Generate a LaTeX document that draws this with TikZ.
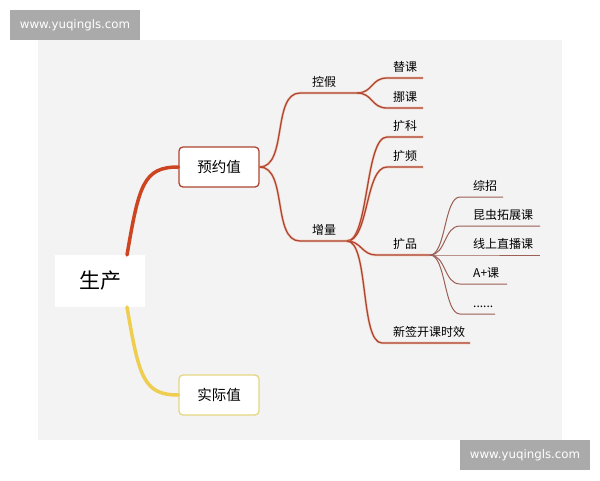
\documentclass[tikz,border=0pt]{standalone}
\usepackage{fontspec}
\newfontfamily\cjk{Noto Sans CJK SC}
\newfontfamily\wmfont{DejaVu Sans}
\definecolor{panelgray}{RGB}{243,243,243}
\definecolor{wmgray}{RGB}{170,170,170}
\definecolor{rootred}{RGB}{205,68,32}
\definecolor{rootyellow}{RGB}{238,205,80}
\definecolor{branchred}{RGB}{175,68,50}
\definecolor{glow}{RGB}{240,140,90}
\definecolor{twigbrown}{RGB}{155,95,85}
\definecolor{boxyellow}{RGB}{228,214,130}
\begin{document}
\begin{tikzpicture}[x=1pt,y=-1pt,
  wmbox/.style={fill=wmgray,text=white,minimum width=130pt,minimum height=30pt,inner sep=0pt,font=\wmfont\fontsize{11.8}{13}\selectfont},
  rootbox/.style={fill=white,minimum width=90pt,minimum height=52pt,font=\cjk\fontsize{21}{24}\selectfont},
  catbox/.style={fill=white,draw,rounded corners=4pt,line width=1.3pt,minimum width=80pt,minimum height=40pt,font=\cjk\fontsize{14.5}{17}\selectfont},
  lbl/.style={anchor=base west,inner sep=0pt,font=\cjk\fontsize{12}{14}\selectfont},
  trunk/.style={line width=3.5pt,line cap=round},
  branch/.style={draw=branchred,line width=1.3pt,preaction={draw=glow,line width=2.6pt,opacity=0.35}},
  twig/.style={draw=twigbrown,line width=1pt}]
\useasboundingbox (0,0) rectangle (600,480);
\fill[panelgray] (38,40) rectangle (562,440);
\node[wmbox] (wmtop) at (75,25) {www.yuqingls.com};
\node[wmbox] (wmbot) at (525,455) {www.yuqingls.com};

\node[rootbox] (shengchan) at (100,281) {生产};
\node[catbox,draw=branchred] (yuyue) at (219,167) {预约值};
\node[catbox,draw=boxyellow] (shiji) at (219,395) {实际值};
\coordinate (sc-top) at (127,255);
\coordinate (sc-bot) at (127,307);
\draw[trunk,rootred] (sc-top) .. controls +(12,-70) and +(-35,0) .. (yuyue.west);
\draw[trunk,rootyellow] (sc-bot) .. controls +(12,70) and +(-35,0) .. (shiji.west);

\coordinate (kj-l) at (300,93);
\coordinate (kj-r) at (357,93);
\coordinate (zl-l) at (300,241);
\coordinate (zl-r) at (347,241);
\node[lbl] (kongjia) at (312,86) {控假};
\node[lbl] (zengliang) at (312,234) {增量};
\draw[branch] (yuyue.east) .. controls +(28,0) and +(-28,0) .. (kj-l) -- (kj-r);
\draw[branch] (yuyue.east) .. controls +(28,0) and +(-28,0) .. (zl-l) -- (zl-r);

\coordinate (tk-l) at (387,78);
\coordinate (tk-r) at (423,78);
\coordinate (nk-l) at (387,108);
\coordinate (nk-r) at (423,108);
\node[lbl] (tike) at (393,71) {替课};
\node[lbl] (nuoke) at (393,101) {挪课};
\draw[branch] (kj-r) .. controls +(16,0) and +(-16,0) .. (tk-l) -- (tk-r);
\draw[branch] (kj-r) .. controls +(16,0) and +(-16,0) .. (nk-l) -- (nk-r);

\coordinate (kk-l) at (387,137);
\coordinate (kk-r) at (423,137);
\coordinate (kp-l) at (387,167);
\coordinate (kp-r) at (423,167);
\coordinate (kpin-l) at (376,255);
\coordinate (kpin-r) at (430,255);
\coordinate (xq-l) at (382,343);
\coordinate (xq-r) at (470,343);
\node[lbl] (kuoke) at (393,130) {扩科};
\node[lbl] (kuopin) at (393,160) {扩频};
\node[lbl] (kuopinlei) at (393,248) {扩品};
\node[lbl] (xinqian) at (393,336) {新签开课时效};
\draw[branch] (zl-r) .. controls +(22,0) and +(-22,0) .. (kk-l) -- (kk-r);
\draw[branch] (zl-r) .. controls +(22,0) and +(-22,0) .. (kp-l) -- (kp-r);
\draw[branch] (zl-r) .. controls +(14,0) and +(-14,0) .. (kpin-l) -- (kpin-r);
\draw[branch] (zl-r) .. controls +(22,0) and +(-22,0) .. (xq-l) -- (xq-r);

\coordinate (zz-l) at (460,197);
\coordinate (zz-r) at (503,197);
\coordinate (kc-l) at (460,226);
\coordinate (kc-r) at (540,226);
\coordinate (xs-l) at (460,255);
\coordinate (xs-r) at (540,255);
\coordinate (ap-l) at (460,284);
\coordinate (ap-r) at (507,284);
\coordinate (dd-l) at (460,314);
\coordinate (dd-r) at (495,314);
\node[lbl] (zongzhao) at (473,190) {综招};
\node[lbl] (kunchong) at (473,219) {昆虫拓展课};
\node[lbl] (xianshang) at (473,248) {线上直播课};
\node[lbl] (aplus) at (473,277) {A+课};
\node[lbl] (dots) at (473,307) {......};
\draw[twig] (kpin-r) .. controls +(16,0) and +(-16,0) .. (zz-l) -- (zz-r);
\draw[twig] (kpin-r) .. controls +(16,0) and +(-16,0) .. (kc-l) -- (kc-r);
\draw[twig] (kpin-r) -- (xs-l) -- (xs-r);
\draw[twig] (kpin-r) .. controls +(16,0) and +(-16,0) .. (ap-l) -- (ap-r);
\draw[twig] (kpin-r) .. controls +(16,0) and +(-16,0) .. (dd-l) -- (dd-r);
\end{tikzpicture}
\end{document}
